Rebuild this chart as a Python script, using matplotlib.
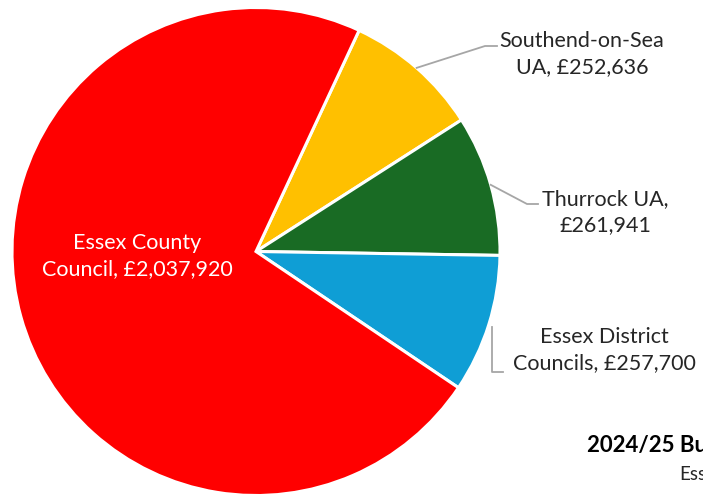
import numpy as np
import matplotlib
matplotlib.use("Agg")
import matplotlib.pyplot as plt

plt.rcParams['font.family'] = ['Lato', 'DejaVu Sans']

# clockwise from the top-right slice
values = [252636, 261941, 257700, 2037920]
colors = ['#FFC000', '#196B24', '#0F9ED5', '#FF0000']
labels = ['Southend-on-Sea\nUA, £252,636', 'Thurrock UA,\n£261,941',
          'Essex District\nCouncils, £257,700', 'Essex County\nCouncil, £2,037,920']

W, H = 703, 498
fig = plt.figure(figsize=(W/100, H/100), dpi=100)
ax = fig.add_axes([0, 0, 1, 1])

cx, cy, r = 256, H - 251.5, 244
wedges, _ = ax.pie(values, colors=colors, startangle=65.0, counterclock=False,
                   center=(cx, cy), radius=r, frame=True,
                   wedgeprops=dict(edgecolor='white', linewidth=2.2))
ax.set_xlim(0, W)
ax.set_ylim(0, H)
ax.set_aspect('equal')
ax.axis('off')

txt = dict(fontsize=15.5, color='#262626', linespacing=1.38)
line = dict(color='#A6A6A6', lw=1.3)

# Southend
w = wedges[0]
a = np.deg2rad((w.theta1 + w.theta2) / 2)
x0, y0 = cx + r*np.cos(a), cy + r*np.sin(a)
ax.plot([x0, 485, 497], [y0, H-46, H-46], **line)
ax.text(582, H-54, labels[0], ha='center', va='center', **txt)

# Thurrock
w = wedges[1]
a = np.deg2rad((w.theta1 + w.theta2) / 2)
x0, y0 = cx + r*np.cos(a), cy + r*np.sin(a)
ax.plot([x0, 527, 538], [y0, H-204, H-204], **line)
ax.text(605, H-212, labels[1], ha='center', va='center', **txt)

# Essex District
ax.plot([492, 492, 503], [H-327, H-372, H-372], **line)
ax.text(604, H-350, labels[2], ha='center', va='center', **txt)

# Essex County, inside the slice
ax.text(137, H-256, labels[3], ha='center', va='center', fontsize=15.5,
        color='white', linespacing=1.38)

# title, cut off at the right edge as in the source
ax.text(587, H-446, '2024/25 Budget Allocation', ha='left', va='center',
        fontsize=16, fontweight='bold', color='black')
ax.text(679, H-475, 'Essex', ha='left', va='center', fontsize=13.5, color='#262626')

fig.savefig('out.png', dpi=100)
